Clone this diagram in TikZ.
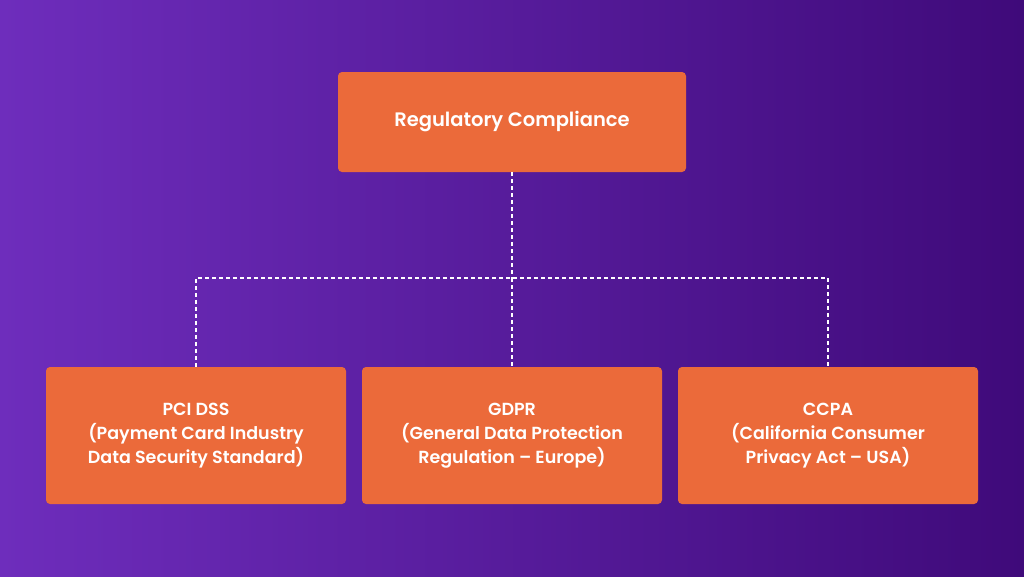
\documentclass[tikz,border=0pt]{standalone}
\usepackage{fontspec}
\setmainfont{Poppins}[UprightFont=* Medium,BoldFont=* SemiBold]
\definecolor{bgl}{HTML}{6E2DBC}
\definecolor{bgr}{HTML}{3F0A7A}
\definecolor{box}{HTML}{EB6A3A}
\begin{document}
\begin{tikzpicture}[x=1pt,y=-1pt,
  boxst/.style={fill=box,rounded corners=4pt,text=white,align=center,inner sep=0pt,font=\bfseries\fontsize{17.5}{24}\selectfont},
  conn/.style={white,dashed,line width=1.2pt,dash pattern=on 4pt off 3pt}]
\useasboundingbox (0,0) rectangle (1024,576);
\shade[left color=bgl,right color=bgr] (0,0) rectangle (1024,576);
\node[boxst,minimum width=348pt,minimum height=100pt,font=\bfseries\fontsize{19.5}{24}\selectfont] (top) at (512,122) {Regulatory Compliance};
\node[boxst,minimum width=300pt,minimum height=137pt] (a) at (196,435.5) {PCI DSS\\(Payment Card Industry\\Data Security Standard)};
\node[boxst,minimum width=300pt,minimum height=137pt] (b) at (512,435.5) {GDPR\\(General Data Protection\\Regulation -- Europe)};
\node[boxst,minimum width=300pt,minimum height=137pt] (c) at (828,435.5) {CCPA\\(California Consumer\\Privacy Act -- USA)};
\coordinate (j) at (512,278);
\draw[conn] (top.south) -- (j);
\draw[conn] (a.north) |- (j) -| (c.north);
\draw[conn] (j) -- (b.north);
\end{tikzpicture}
\end{document}
